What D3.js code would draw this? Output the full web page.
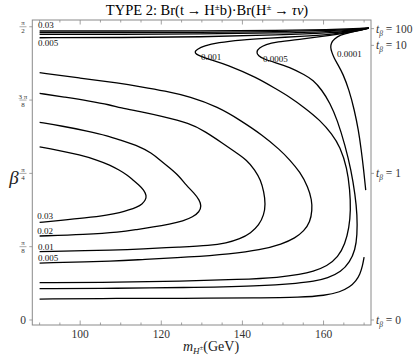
<!DOCTYPE html>
<html><head><meta charset="utf-8">
<script src="https://cdn.jsdelivr.net/npm/d3@7"></script>
<style>body{margin:0;background:#fff}svg{display:block}</style>
</head><body>
<svg id="chart" width="415" height="358"></svg>
<script>
// ---------- data ----------
const xMajorTicks = [100, 120, 140, 160];
const xMinorTicks = [90, 95, 105, 110, 115, 125, 130, 135, 145, 150, 155, 165, 170];
const yTickFractions = [[0, 1], [1, 8], [2, 8], [3, 8], [4, 8]];          // beta = pi * n / d
const yTickLabels = [["0"], ["\u03c0", "8"], ["\u03c0", "4"], ["3 \u03c0", "8"], ["\u03c0", "2"]];
const tanBetaTicks = [0, 1, 10, 100];
const tanBetaLabels = ["0", "1", "10", "100"];

// contour lines: [mH (GeV), beta (rad)]
const c003 = [[90,0.927],[94.3,0.911],[100.0,0.884],[104.2,0.857],[107.4,0.830],[109.6,0.803],[111.6,0.777],[113.0,0.750],[114.5,0.723],[115.7,0.696],[116.4,0.664],[116.1,0.643],[115.3,0.621],[114.0,0.605],[112.0,0.589],[109.8,0.575],[106.9,0.562],[101.2,0.546],[95.0,0.533],[90,0.523]];
const c002 = [[90,1.059],[95.5,1.039],[101.9,1.012],[106.9,0.986],[109.8,0.964],[114.8,0.928],[117.5,0.895],[119.7,0.857],[122.1,0.814],[124.4,0.771],[126.1,0.723],[128.1,0.680],[129.4,0.643],[129.9,0.611],[129.4,0.579],[127.8,0.552],[125.4,0.530],[122.1,0.514],[118.0,0.498],[114.0,0.485],[109.8,0.470],[101.2,0.458],[90,0.450]];
const c001 = [[90,1.214],[96.3,1.194],[102.4,1.173],[107.4,1.152],[109.8,1.137],[114.8,1.116],[119.7,1.093],[127.1,1.054],[130.8,1.010],[135.2,0.946],[138.4,0.897],[141.1,0.857],[143.1,0.803],[144.5,0.750],[145.3,0.686],[145.7,0.621],[145.3,0.562],[144.1,0.509],[142.1,0.466],[139.4,0.434],[136.0,0.412],[132.0,0.399],[124.6,0.391],[114.8,0.380],[109.8,0.375],[90,0.366]];
const c0005 = [[90,1.325],[100.0,1.296],[109.8,1.268],[114.8,1.250],[120.9,1.227],[127.1,1.196],[134.0,1.141],[139.4,1.071],[144.9,0.991],[149.3,0.911],[151.7,0.857],[154.2,0.793],[156.2,0.712],[157.1,0.643],[157.2,0.589],[156.7,0.525],[155.2,0.477],[153.0,0.439],[149.8,0.407],[144.4,0.375],[137.0,0.354],[127.1,0.337],[114.8,0.324],[109.8,0.316],[90,0.305]];
const u003 = [[90,1.548],[109.8,1.548],[129.6,1.548],[149.3,1.551],[161.6,1.556],[167.8,1.560],[171.2,1.564]];
const u002 = [[90,1.539],[109.8,1.539],[129.6,1.540],[149.3,1.545],[161.6,1.551],[167.8,1.557],[171.2,1.564]];
const u001 = [[90,1.530],[109.8,1.530],[129.6,1.532],[149.3,1.537],[161.6,1.545],[167.8,1.554],[171.2,1.564]];
const u0005 = [[90,1.512],[109.8,1.513],[129.6,1.516],[149.3,1.527],[161.6,1.537],[167.8,1.551],[171.2,1.564]];
const c0001 = [[171.2,1.564],[167.8,1.548],[161.6,1.529],[154.2,1.519],[146.8,1.510],[139.4,1.500],[134.0,1.486],[130.5,1.468],[128.8,1.449],[128.2,1.436],[128.6,1.424],[129.6,1.414],[132.0,1.395],[136.1,1.369],[143.5,1.299],[148.1,1.240],[151.7,1.194],[155.4,1.136],[159.1,1.071],[162.1,0.996],[164.1,0.927],[165.8,0.814],[166.5,0.696],[166.7,0.589],[166.3,0.493],[165.3,0.407],[163.6,0.337],[160.9,0.289],[157.4,0.260],[154.2,0.244],[149.3,0.228],[139.4,0.217],[124.6,0.208],[109.8,0.202],[90,0.200]];
const c00005 = [[171.2,1.564],[167.8,1.545],[161.6,1.524],[155.0,1.505],[148.1,1.489],[145.8,1.476],[144.1,1.457],[143.4,1.436],[143.9,1.414],[145.3,1.398],[147.6,1.382],[151.7,1.355],[155.4,1.312],[157.4,1.286],[159.6,1.232],[161.6,1.162],[163.4,1.071],[165.3,0.937],[166.8,0.803],[167.8,0.670],[168.3,0.562],[168.3,0.455],[167.8,0.375],[166.5,0.311],[164.3,0.257],[161.1,0.225],[157.4,0.206],[154.2,0.198],[144.4,0.182],[124.6,0.173],[109.8,0.170],[90,0.168]];
const c00001a = [[171.2,1.564],[166.5,1.540],[164.1,1.527],[162.6,1.505],[161.9,1.484],[161.7,1.462],[162.0,1.436],[162.6,1.403],[163.6,1.366],[164.8,1.318],[166.3,1.232],[167.6,1.125],[168.6,1.018],[169.3,0.911],[169.9,0.803],[170.4,0.696]];
const c00001b = [[90,0.112],[109.8,0.116],[124.6,0.116],[144.4,0.118],[154.2,0.121],[160.4,0.131],[164.1,0.150],[166.5,0.177],[168.0,0.209],[169.0,0.246],[169.6,0.289],[170.0,0.337]];
const contourLines = [c003, c002, c001, c0005, u003, u002, u001, u0005, c0001, c00005, c00001a, c00001b];

// contour labels: [text, mH, beta]
const labelTexts = ["0.03", "0.005", "0.001", "0.0005", "0.0001", "0.03", "0.02", "0.01", "0.005"];
const labelMH = [89.6, 89.6, 129.8, 145.1, 163.3, 89.4, 89.4, 89.6, 89.6];
const labelBeta = [1.580, 1.484, 1.409, 1.398, 1.425, 0.557, 0.477, 0.391, 0.332];

// ---------- drawing ----------
const svg = d3.select("#chart");
const L = 32.3, R = 371, T = 20, B = 325;
const x = d3.scaleLinear().domain([88.2, 171.7]).range([L, R]);
const y = d3.scaleLinear().domain([-0.0268, 1.607]).range([B, T]);
const serif = "'Liberation Serif', 'DejaVu Serif', serif";
const frameColor = "#8a8a8a";

// title with superscripts
const tt = svg.append("text").attr("x", 207).attr("y", 15).attr("text-anchor", "middle")
  .attr("font-family", serif).attr("font-size", 14.5).attr("fill", "#000");
tt.append("tspan").text("TYPE 2: Br(t\u2009\u2192\u2009H");
tt.append("tspan").attr("font-size", 9).attr("dy", -5).text("\u00b1");
tt.append("tspan").attr("dy", 5).text("b)\u00b7Br(H");
tt.append("tspan").attr("font-size", 9).attr("dy", -5).text("\u00b1");
tt.append("tspan").attr("dy", 5).text("\u2009\u2192\u2009");
tt.append("tspan").attr("font-style", "italic").text("\u03c4\u03bd");
tt.append("tspan").text(")");

// contours
const line = d3.line().x(d => x(d[0])).y(d => y(d[1])).curve(d3.curveBasis);
svg.append("g").selectAll("path").data(contourLines).join("path")
  .attr("d", line).attr("fill", "none").attr("stroke", "#000").attr("stroke-width", 1.3);

// frame
svg.append("rect").attr("x", L).attr("y", T).attr("width", R - L).attr("height", B - T)
  .attr("fill", "none").attr("stroke", frameColor).attr("stroke-width", 1);

// bottom / top ticks (inward)
const tg = svg.append("g").attr("stroke", frameColor).attr("stroke-width", 0.8);
xMajorTicks.forEach(v => {
  tg.append("line").attr("x1", x(v)).attr("x2", x(v)).attr("y1", B).attr("y2", B - 4.5);
  tg.append("line").attr("x1", x(v)).attr("x2", x(v)).attr("y1", T).attr("y2", T + 4.5);
});
xMinorTicks.forEach(v => {
  tg.append("line").attr("x1", x(v)).attr("x2", x(v)).attr("y1", B).attr("y2", B - 2.5);
  tg.append("line").attr("x1", x(v)).attr("x2", x(v)).attr("y1", T).attr("y2", T + 2.5);
});
svg.append("g").selectAll("text").data(xMajorTicks).join("text")
  .attr("x", d => x(d)).attr("y", 338).attr("text-anchor", "middle")
  .attr("font-family", serif).attr("font-size", 11.5).attr("fill", "#333").text(d => d);

// left ticks
yTickFractions.forEach((f, i) => {
  const yy = y(Math.PI * f[0] / f[1]);
  tg.append("line").attr("x1", L - 3).attr("x2", L).attr("y1", yy).attr("y2", yy);
  const lab = yTickLabels[i];
  if (lab.length === 1) {
    svg.append("text").attr("x", 23).attr("y", yy + 4).attr("text-anchor", "middle")
      .attr("font-family", serif).attr("font-size", 11.5).attr("fill", "#333").text(lab[0]);
  } else {
    svg.append("text").attr("x", 23).attr("y", yy - 1.5).attr("text-anchor", "middle")
      .attr("font-family", serif).attr("font-size", 7).attr("fill", "#333").text(lab[0]);
    svg.append("line").attr("x1", 19.5).attr("x2", 26.5).attr("y1", yy).attr("y2", yy)
      .attr("stroke", "#555").attr("stroke-width", 0.5);
    svg.append("text").attr("x", 23).attr("y", yy + 6.5).attr("text-anchor", "middle")
      .attr("font-family", serif).attr("font-size", 7).attr("fill", "#333").text(lab[1]);
  }
});

// right ticks tan(beta)
tanBetaTicks.forEach((t, i) => {
  const yy = y(Math.atan(t));
  tg.append("line").attr("x1", R).attr("x2", R + 3).attr("y1", yy).attr("y2", yy);
  const tx = svg.append("text").attr("x", 376).attr("y", yy + 4)
    .attr("font-family", serif).attr("font-size", 11.5).attr("fill", "#333");
  tx.append("tspan").attr("font-style", "italic").text("t");
  tx.append("tspan").attr("font-style", "italic").attr("font-size", 7.5).attr("dy", 3).text("\u03b2");
  tx.append("tspan").attr("dy", -3).text(" = " + tanBetaLabels[i]);
});

// axis titles
const xl = svg.append("text").attr("x", 211).attr("y", 351).attr("text-anchor", "middle")
  .attr("font-family", serif).attr("font-size", 14).attr("fill", "#222");
xl.append("tspan").attr("font-style", "italic").text("m");
xl.append("tspan").attr("font-style", "italic").attr("font-size", 9).attr("dy", 3).text("H");
xl.append("tspan").attr("font-size", 7).attr("dy", -4).text("\u00b1");
xl.append("tspan").attr("dy", 1).text("(GeV)");

svg.append("text").attr("x", 14).attr("y", 184).attr("text-anchor", "middle")
  .attr("font-family", serif).attr("font-style", "italic").attr("font-size", 19).attr("fill", "#222").text("\u03b2");

// contour labels
svg.append("g").selectAll("text").data(labelTexts).join("text")
  .attr("x", (d, i) => x(labelMH[i])).attr("y", (d, i) => y(labelBeta[i]) + 3)
  .attr("font-family", serif).attr("font-size", 9).attr("fill", "#111").text(d => d);
</script>
</body></html>
